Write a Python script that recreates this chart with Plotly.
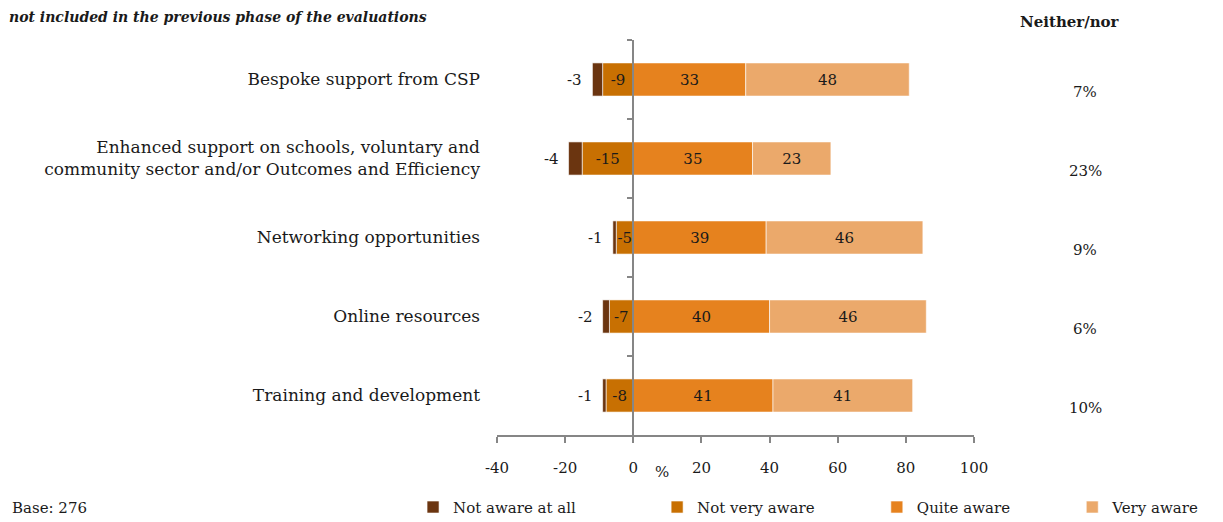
import plotly.graph_objects as go

categories = [
    "Bespoke support from CSP",
    "Enhanced support on schools, voluntary and<br>community sector and/or Outcomes and Efficiency",
    "Networking opportunities",
    "Online resources",
    "Training and development",
]
not_aware_at_all = [-3, -4, -1, -2, -1]
not_very_aware = [-9, -15, -5, -7, -8]
quite_aware = [33, 35, 39, 40, 41]
very_aware = [48, 23, 46, 46, 41]
neither_nor = ["7%", "23%", "9%", "6%", "10%"]
x_ticks = [-40, -20, 0, 20, 40, 60, 80, 100]
x_tick_text = ["-40", "-20", "0", "20", "40", "60", "80", "100"]
series_names = ["Not aware at all", "Not very aware", "Quite aware", "Very aware"]

FONT = "DejaVu Serif"
TXT = "#1a1a1a"
AXC = "#868686"
C_NAA = "#6B3510"
C_NVA = "#C87002"
C_QA = "#E6821E"
C_VA = "#EBA96B"

# trailing non-breaking spaces only widen the legend entries (Excel-like spacing)
NB = "\u00a0"
legend_pad = [16, 12, 12, 0]
legend_names = [n + NB * p for n, p in zip(series_names, legend_pad)]

fig = go.Figure()

def bar(name, vals, color, rank, show_text=True):
    return go.Bar(
        name=name, y=categories, x=vals, orientation="h",
        marker=dict(color=color, line=dict(color="white", width=0.6)),
        text=[str(v) for v in vals] if show_text else None,
        texttemplate="%{text}" if show_text else None,
        textposition="inside", insidetextanchor="middle",
        constraintext="none", textangle=0,
        textfont=dict(family=FONT, size=15, color=TXT),
        legendrank=rank, hoverinfo="x+y",
    )

fig.add_trace(bar(legend_names[1], not_very_aware, C_NVA, 2))
fig.add_trace(bar(legend_names[0], not_aware_at_all, C_NAA, 1, show_text=False))
fig.add_trace(bar(legend_names[2], quite_aware, C_QA, 3))
fig.add_trace(bar(legend_names[3], very_aware, C_VA, 4))

# invisible trace for the centre axis (y2)
fig.add_trace(go.Scatter(x=[0] * len(categories), y=categories, yaxis="y2",
                         mode="markers", marker=dict(opacity=0),
                         showlegend=False, hoverinfo="skip"))

# labels for "Not aware at all" placed left of the bars
for cat, a, b in zip(categories, not_aware_at_all, not_very_aware):
    fig.add_annotation(x=a + b, y=cat, xref="x", yref="y", text=str(a),
                       showarrow=False, xanchor="right", yanchor="middle",
                       xshift=-8, font=dict(family=FONT, size=15, color=TXT))

# Neither/nor column
fig.add_annotation(x=1.201, y=1.046, xref="paper", yref="paper",
                   xanchor="center", yanchor="middle",
                   text="<b>Neither/nor</b>", showarrow=False,
                   font=dict(family=FONT, size=15, color=TXT))
for cat, v in zip(categories, neither_nor):
    fig.add_annotation(x=1.233, y=cat, xref="paper", yref="y", text=v,
                       xanchor="center", yanchor="middle",
                       showarrow=False, yshift=-12,
                       font=dict(family=FONT, size=15, color=TXT))

# note at top
fig.add_annotation(x=-1.03, y=1.033, xref="paper", yref="paper",
                   xanchor="left", yanchor="bottom", align="left",
                   text="<b><i>Please note that the enhanced support is a new service offer by CSP and was therefore<br>"
                        "not included in the previous phase of the evaluations</i></b>",
                   showarrow=False, font=dict(family=FONT, size=14, color=TXT))

fig.add_annotation(x=8.5, y=-0.093, xref="x", yref="paper", text="%",
                   xanchor="center", yanchor="middle",
                   showarrow=False, font=dict(family=FONT, size=15, color=TXT))
fig.add_annotation(x=-1.021, y=-0.185, xref="paper", yref="paper",
                   xanchor="left", yanchor="middle", text="Base: 276",
                   showarrow=False, font=dict(family=FONT, size=15, color=TXT))

fig.update_layout(
    width=1215, height=514,
    margin=dict(l=489, r=249, t=32, b=87, autoexpand=False),
    barmode="relative", bargap=0.58,
    plot_bgcolor="white", paper_bgcolor="white",
    font=dict(family=FONT, size=15, color=TXT),
    xaxis=dict(range=[-40, 100], tickvals=x_ticks, ticktext=x_tick_text,
               showgrid=False, automargin=False,
               zeroline=False, showline=True, linecolor=AXC, linewidth=2,
               ticks="outside", ticklen=6, tickcolor=AXC, tickwidth=1.5,
               ticklabelstandoff=12,
               tickfont=dict(family=FONT, size=15, color=TXT)),
    yaxis=dict(type="category", categoryorder="array", categoryarray=categories,
               range=[4.5, -0.5], showgrid=False, zeroline=False,
               automargin=False,
               showline=False, ticks="", ticklabelstandoff=16,
               tickfont=dict(family=FONT, size=17, color=TXT)),
    yaxis2=dict(type="category", categoryorder="array", categoryarray=categories,
                range=[4.5, -0.5], overlaying="y", anchor="free",
                position=40 / 140, side="left", showgrid=False, zeroline=False,
                showline=True, linecolor=AXC, linewidth=2, automargin=False,
                ticks="outside", tickson="boundaries", ticklen=5,
                tickcolor=AXC, tickwidth=1.5, showticklabels=False,
                layer="above traces"),
    legend=dict(orientation="h", x=-0.176, y=-0.183, xanchor="left",
                yanchor="middle",
                font=dict(family=FONT, size=15, color=TXT),
                traceorder="normal"),
    showlegend=True,
)

fig.write_html("out.html")
